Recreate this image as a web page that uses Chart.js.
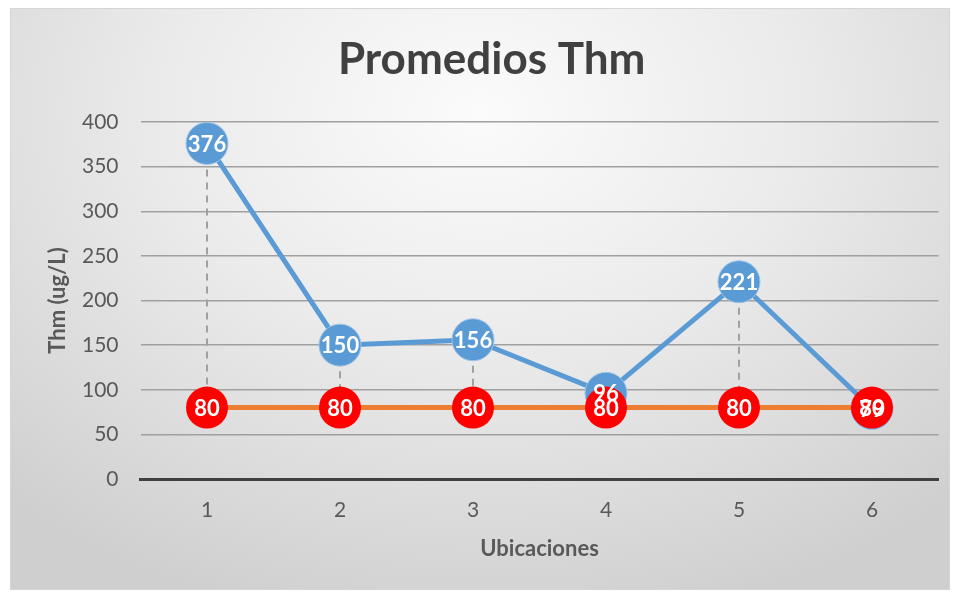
<!DOCTYPE html>
<html>
<head>
<meta charset="utf-8">
<script src="https://cdn.jsdelivr.net/npm/chart.js"></script>
<style>
  html, body { margin: 0; padding: 0; background: #fff; }
  #box {
    position: absolute; left: 10px; top: 8px; width: 940px; height: 582px;
    background: radial-gradient(ellipse 75% 90% at 50% 18%, #fbfbfb 0%, #ebebeb 45%, #cfcfcf 100%);
    border: 1px solid #d6d6d6; box-sizing: border-box; overflow: hidden;
  }
  canvas { position: absolute; left: 0; top: 0; }
</style>
</head>
<body>
<div id="box"><canvas id="myChart" width="940" height="582"></canvas></div>
<script>
// datos
const ubicaciones = ["1", "2", "3", "4", "5", "6"];
const promedios = [376, 150, 156, 96, 221, 79];
const limite = [80, 80, 80, 80, 80, 80];
const yTicks = [0, 50, 100, 150, 200, 250, 300, 350, 400];

const font = "Lato";

// lineas alto-bajo discontinuas entre las dos series
const highLow = {
  id: "highLow",
  beforeDatasetsDraw(chart) {
    const { ctx, scales } = chart;
    ctx.save();
    ctx.strokeStyle = "#a0a0a0";
    ctx.lineWidth = 2;
    ctx.setLineDash([7, 6]);
    ubicaciones.forEach((u, i) => {
      const x = scales.x.getPixelForValue(i);
      const a = scales.y.getPixelForValue(promedios[i]);
      const b = scales.y.getPixelForValue(limite[i]);
      ctx.beginPath();
      ctx.moveTo(x, Math.min(a, b));
      ctx.lineTo(x, Math.max(a, b));
      ctx.stroke();
    });
    ctx.restore();
  },
};

// etiquetas blancas dentro de los marcadores
const etiquetas = {
  id: "etiquetas",
  afterDatasetsDraw(chart) {
    const { ctx } = chart;
    ctx.save();
    ctx.fillStyle = "#ffffff";
    ctx.font = "bold 22px " + font;
    ctx.textAlign = "center";
    ctx.textBaseline = "middle";
    chart.data.datasets.forEach((ds, di) => {
      chart.getDatasetMeta(di).data.forEach((pt, i) => {
        ctx.fillText(String(ds.data[i]), pt.x, pt.y + 1);
      });
    });
    ctx.restore();
  },
};

const config = {
  type: "line",
  data: {
    labels: ubicaciones,
    datasets: [
      {
        label: "Thm",
        data: promedios,
        order: 1,
        borderColor: "#5b9bd5",
        borderWidth: 5,
        pointRadius: 21,
        pointBackgroundColor: "#5b9bd5",
        pointBorderColor: "#9dc3e6",
        pointBorderWidth: 1,
      },
      {
        label: "Limite",
        data: limite,
        order: 0,
        borderColor: "#ed7d31",
        borderWidth: 5,
        pointRadius: 21,
        pointBackgroundColor: "#ff0000",
        pointBorderColor: "#ff0000",
        pointBorderWidth: 0,
      },
    ],
  },
  options: {
    responsive: false,
    animation: false,
    layout: { autoPadding: false, padding: { left: 33.8, right: 12.5, top: 0, bottom: 28.8 } },
    plugins: {
      legend: { display: false },
      tooltip: { enabled: false },
      title: {
        display: true,
        text: "Promedios Thm",
        color: "#404040",
        font: { family: font, size: 44, weight: "bold", lineHeight: 1.2 },
        padding: { top: 24.6, bottom: 35.6 },
      },
    },
    scales: {
      x: {
        offset: true,
        grid: { display: false, drawTicks: false },
        border: { color: "#404040", width: 3 },
        ticks: { color: "#595959", font: { family: font, size: 21 }, padding: 19 },
        title: {
          display: true,
          text: "Ubicaciones",
          color: "#595959",
          font: { family: font, size: 22, weight: "bold", lineHeight: 1.2 },
          padding: 0,
        },
        afterFit: (s) => { s.height = 83.2; },
      },
      y: {
        min: 0,
        max: 400,
        afterBuildTicks: (s) => { s.ticks = yTicks.map((v) => ({ value: v })); },
        grid: { color: "#a0a0a0", lineWidth: 1.5, drawTicks: false },
        border: { display: false },
        ticks: { color: "#595959", font: { family: font, size: 21 }, padding: 22 },
        title: {
          display: true,
          text: "Thm (ug/L)",
          color: "#595959",
          font: { family: font, size: 22, weight: "bold", lineHeight: 1.2 },
          padding: 0,
        },
        afterFit: (s) => { s.width = 95.7; },
      },
    },
  },
  plugins: [highLow, etiquetas],
};

const myChart = new Chart(document.getElementById("myChart"), config);
</script>
</body>
</html>
